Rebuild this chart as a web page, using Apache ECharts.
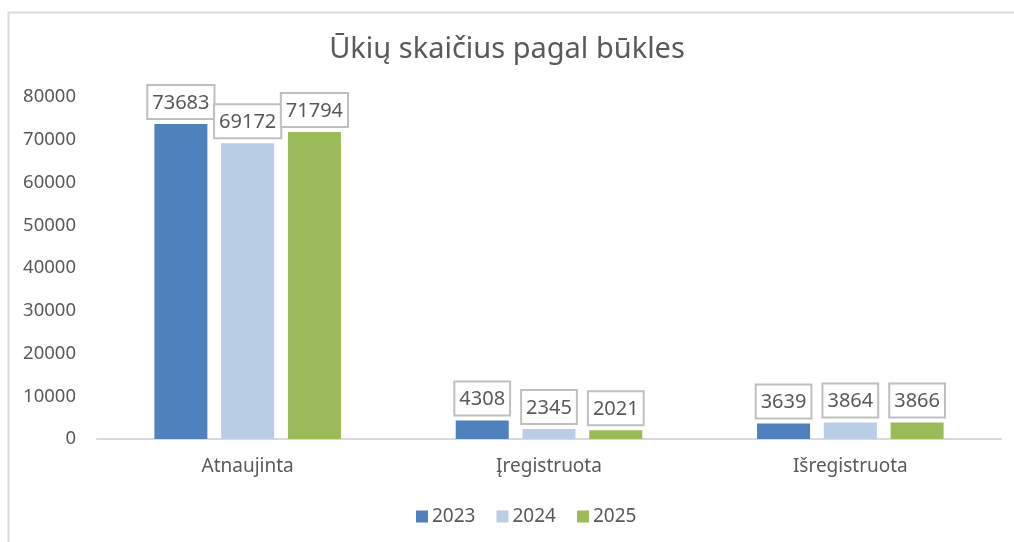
<!DOCTYPE html>
<html>
<head>
<meta charset="utf-8">
<script src="https://cdn.jsdelivr.net/npm/echarts@6/dist/echarts.min.js"></script>
<style>
html,body{margin:0;padding:0;background:#fff;}
#chart{width:1014px;height:542px;}
</style>
</head>
<body>
<div id="chart"></div>
<script>
const title = 'Ūkių skaičius pagal būkles';
const categories = ['Atnaujinta', 'Įregistruota', 'Išregistruota'];
const seriesNames = ['2023', '2024', '2025'];
const values2023 = [73683, 4308, 3639];
const values2024 = [69172, 2345, 3864];
const values2025 = [71794, 2021, 3866];
const colors = ['#4f81bd', '#b9cde5', '#9bbb59'];

const font = 'Noto Sans';
const textColor = '#595959';
const allValues = [values2023, values2024, values2025];

const chart = echarts.init(document.getElementById('chart'));
chart.setOption({
  animation: false,
  backgroundColor: '#fff',
  textStyle: { fontFamily: font },
  graphic: [{
    type: 'rect',
    left: 6, top: 10,
    shape: { width: 1100, height: 600 },
    style: { fill: 'none', stroke: '#d9d9d9', lineWidth: 2 },
    silent: true
  }],
  title: {
    text: title,
    left: 'center',
    top: 30,
    textStyle: { fontFamily: font, fontSize: 29, fontWeight: 'normal', color: textColor }
  },
  legend: {
    data: seriesNames,
    bottom: 11,
    left: 411,
    itemWidth: 12,
    itemHeight: 12,
    itemGap: 21,
    icon: 'rect',
    textStyle: { fontFamily: font, fontSize: 19, color: textColor, padding: [0, 0, 0, -1] }
  },
  grid: { left: 97, right: 13, top: 97, bottom: 103, containLabel: false },
  xAxis: {
    type: 'category',
    data: categories,
    axisLine: { lineStyle: { color: '#d9d9d9', width: 2 } },
    axisTick: { show: false },
    axisLabel: { fontFamily: font, fontSize: 19, color: textColor, margin: 18 }
  },
  yAxis: {
    type: 'value',
    min: 0, max: 80000, interval: 10000,
    axisLine: { show: false },
    axisTick: { show: false },
    splitLine: { show: false },
    axisLabel: { fontFamily: font, fontSize: 18.5, color: textColor, margin: 21, formatter: v => String(v) }
  },
  series: seriesNames.map((name, i) => ({
    name: name,
    type: 'bar',
    data: allValues[i],
    barWidth: 53,
    barGap: '26%',
    itemStyle: { color: colors[i] },
    label: {
      show: true,
      position: 'top',
      distance: 6,
      fontFamily: font,
      fontSize: 20,
      lineHeight: 24,
      color: textColor,
      backgroundColor: '#fff',
      borderColor: '#bfbfbf',
      borderWidth: 2,
      padding: [5, 4, 3, 4]
    }
  }))
});
</script>
</body>
</html>
